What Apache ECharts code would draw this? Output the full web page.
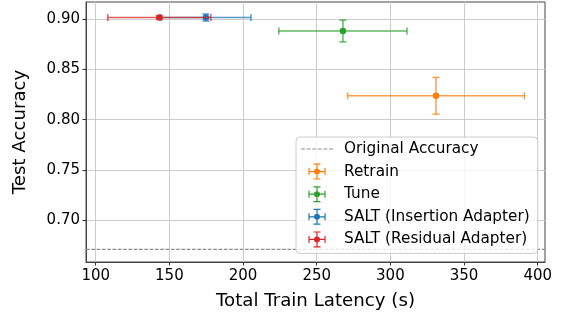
<!DOCTYPE html>
<html>
<head>
<meta charset="utf-8">
<script src="https://cdn.jsdelivr.net/npm/echarts@6/dist/echarts.min.js"></script>
<style>html,body{margin:0;padding:0;background:#fff}#c{width:564px;height:315px}</style>
</head>
<body>
<div id="c"></div>
<script>
// ---- data ----
const methods = ['Retrain', 'Tune', 'SALT (Insertion Adapter)', 'SALT (Residual Adapter)'];
const latencyMean = [331.0, 267.8, 174.8, 143.2];
const latencyErr = [60.0, 43.5, 30.6, 35.0];
const accMean = [0.8238, 0.8883, 0.9018, 0.9017];
const accErr = [0.0183, 0.0108, 0.0035, 0.0018];
const originalAccuracy = 0.6708;
const originalLabel = 'Original Accuracy';
const xTicks = [100, 150, 200, 250, 300, 350, 400];
const yTicks = [0.70, 0.75, 0.80, 0.85, 0.90];
const xRange = [93.42, 404.95];
const yRange = [0.65815, 0.91724];

const colors = ['#ff7f0e', '#2ca02c', '#1f77b4', '#d62728'];
const FONT = 'DejaVu Sans';

// legend icons
const errIcon = 'path://' +
  'M8 7.4 H24 V8.6 H8 Z ' +
  'M7.4 4.5 H8.6 V11.5 H7.4 Z ' +
  'M23.4 4.5 H24.6 V11.5 H23.4 Z ' +
  'M15.4 0 H16.6 V16 H15.4 Z ' +
  'M12.5 0 H19.5 V1.2 H12.5 Z ' +
  'M12.5 14.8 H19.5 V16 H12.5 Z ' +
  'M19 8 A3 3 0 1 1 13 8 A3 3 0 1 1 19 8 Z';
let dashIcon = 'path://';
for (let i = 0; i < 6; i++) {
  const x0 = i * 5.3, x1 = x0 + 3.7;
  dashIcon += 'M' + x0 + ' 0 H' + x1 + ' V1.1 H' + x0 + ' Z ';
}

function makeErrRender(color) {
  return function (params, api) {
    const x = api.value(0), y = api.value(1), xe = api.value(2), ye = api.value(3);
    const l = api.coord([x - xe, y]), r = api.coord([x + xe, y]);
    const t = api.coord([x, y + ye]), b = api.coord([x, y - ye]);
    const cap = 3.5;
    const st = { stroke: color, lineWidth: 1.5, opacity: 0.75 };
    const line = (x1, y1, x2, y2) => ({ type: 'line', shape: { x1, y1, x2, y2 }, style: st });
    return {
      type: 'group',
      children: [
        line(l[0], l[1], r[0], r[1]),
        line(l[0], l[1] - cap, l[0], l[1] + cap),
        line(r[0], r[1] - cap, r[0], r[1] + cap),
        line(t[0], t[1], b[0], b[1]),
        line(t[0] - cap, t[1], t[0] + cap, t[1]),
        line(b[0] - cap, b[1], b[0] + cap, b[1])
      ]
    };
  };
}

const series = [{
  name: originalLabel,
  type: 'line',
  data: [[xRange[0], originalAccuracy], [xRange[1], originalAccuracy]],
  symbol: 'none',
  silent: true,
  lineStyle: { color: '#8c8c8c', width: 1.2, type: [3.7, 1.6] },
  itemStyle: { color: '#8c8c8c' },
  z: 1
}];
methods.forEach((m, i) => {
  series.push({
    name: m + ' err',
    type: 'custom',
    renderItem: makeErrRender(colors[i]),
    data: [[latencyMean[i], accMean[i], latencyErr[i], accErr[i]]],
    itemStyle: { color: colors[i] },
    clip: false,
    silent: true,
    z: 2 + i * 2
  });
  series.push({
    name: m,
    type: 'scatter',
    data: [[latencyMean[i], accMean[i]]],
    symbol: 'circle',
    symbolSize: 6.5,
    itemStyle: { color: colors[i], opacity: 1 },
    silent: true,
    z: 3 + i * 2
  });
});

const chart = echarts.init(document.getElementById('c'), null, { renderer: 'canvas' });
chart.setOption({
  animation: false,
  backgroundColor: '#ffffff',
  textStyle: { fontFamily: FONT },
  grid: { left: 86, right: 19, top: 2, bottom: 53, show: true, borderColor: '#444444', borderWidth: 1, backgroundColor: 'transparent' },
  xAxis: {
    type: 'value',
    min: xRange[0], max: xRange[1],
    name: 'Total Train Latency (s)',
    nameLocation: 'middle',
    nameGap: 30,
    nameTextStyle: { fontFamily: FONT, fontSize: 18.2, color: '#000' },
    axisLine: { show: true, onZero: false, lineStyle: { color: '#444444', width: 1 } },
    axisTick: { show: true, inside: false, length: 3.5, customValues: xTicks, lineStyle: { color: '#333' } },
    axisLabel: { customValues: xTicks, fontFamily: FONT, fontSize: 15, color: '#000', margin: 7, showMinLabel: true, showMaxLabel: true },
    splitLine: { show: true, customValues: xTicks, lineStyle: { color: '#cccccc', width: 1 } }
  },
  yAxis: {
    type: 'value',
    min: yRange[0], max: yRange[1],
    name: 'Test Accuracy',
    nameLocation: 'middle',
    nameGap: 57,
    nameTextStyle: { fontFamily: FONT, fontSize: 18.2, color: '#000' },
    axisLine: { show: true, onZero: false, lineStyle: { color: '#444444', width: 1 } },
    axisTick: { show: true, inside: false, length: 3.5, customValues: yTicks, lineStyle: { color: '#333' } },
    axisLabel: { customValues: yTicks, fontFamily: FONT, fontSize: 15, color: '#000', margin: 6, formatter: v => v.toFixed(2) },
    splitLine: { show: true, customValues: yTicks, lineStyle: { color: '#cccccc', width: 1 } }
  },
  legend: {
    orient: 'vertical',
    left: 296,
    top: 137,
    padding: [4, 8, 6, 5],
    itemWidth: 32,
    itemHeight: 16,
    itemGap: 6.6,
    selectedMode: false,
    backgroundColor: 'rgba(255,255,255,0.8)',
    borderColor: '#cccccc',
    borderWidth: 1,
    borderRadius: 4,
    textStyle: { fontFamily: FONT, fontSize: 15.3, color: '#000', lineHeight: 16, padding: [0, 0, 0, 6] },
    data: [
      { name: originalLabel, icon: dashIcon },
      { name: methods[0], icon: errIcon },
      { name: methods[1], icon: errIcon },
      { name: methods[2], icon: errIcon },
      { name: methods[3], icon: errIcon }
    ]
  },
  series: series
});
</script>
</body>
</html>
